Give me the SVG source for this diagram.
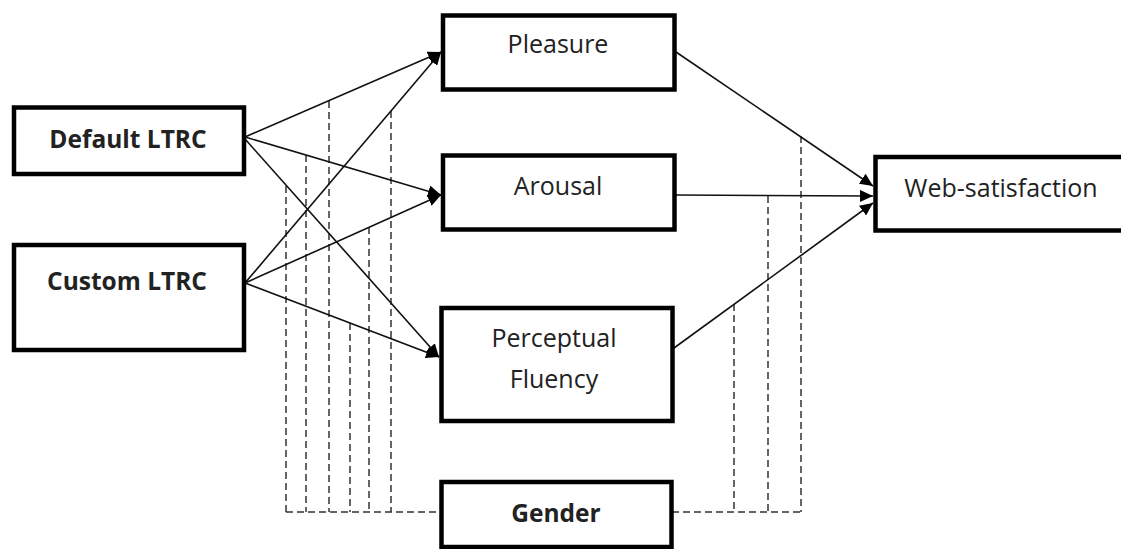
<svg xmlns="http://www.w3.org/2000/svg" width="1121" height="549" viewBox="0 0 1121 549">
  <style>
    .box { fill: #fff; stroke: #000; stroke-width: 4.5; }
    .lbl { font-family: "Open Sans", "Liberation Sans", sans-serif; font-size: 25px; fill: #222; text-anchor: middle; }
    .bold { font-weight: bold; font-size: 24.5px; }
    .path { stroke: #111; stroke-width: 1.6; fill: none; marker-end: url(#head); }
    .mod { stroke: #333; stroke-width: 1.5; stroke-dasharray: 7 4; fill: none; }
  </style>
  <defs>
    <marker id="head" markerUnits="userSpaceOnUse" markerWidth="14" markerHeight="12" refX="13" refY="6" orient="auto">
      <path d="M0,0 L13,6 L0,12 Z" fill="#000"/>
    </marker>
  </defs>
  <rect width="1121" height="549" fill="#fff"/>

  <!-- moderation lines from Gender -->
  <g id="moderators">
    <path class="mod" d="M286,186 V512 M306,155 V512 M329,101 V512 M350,323 V512 M369,227 V512 M391,111 V512 M286,512 H442"/>
    <path class="mod" d="M734,304 V512 M768,196 V512 M801,136 V512 M672,512 H801"/>
  </g>

  <!-- direct paths -->
  <g id="connectors">
    <line class="path" x1="245" y1="137" x2="441" y2="52"/>
    <line class="path" x1="245" y1="137" x2="441" y2="195"/>
    <line class="path" x1="245" y1="139" x2="439" y2="357"/>
    <line class="path" x1="245" y1="283" x2="441" y2="52"/>
    <line class="path" x1="245" y1="283" x2="441" y2="195"/>
    <line class="path" x1="245" y1="283" x2="439" y2="357"/>
    <line class="path" x1="676" y1="52" x2="873" y2="186"/>
    <line class="path" x1="676" y1="195" x2="873" y2="196"/>
    <line class="path" x1="674" y1="348" x2="873" y2="203"/>
  </g>

  <g id="default-ltrc">
    <rect class="box" x="14" y="107.5" width="230" height="66.5"/>
    <text class="lbl bold" x="128" y="148">Default LTRC</text>
  </g>
  <g id="custom-ltrc">
    <rect class="box" x="14" y="245" width="230" height="105"/>
    <text class="lbl bold" x="127" y="290">Custom LTRC</text>
  </g>
  <g id="pleasure">
    <rect class="box" x="443" y="15.5" width="231.5" height="74"/>
    <text class="lbl" x="558" y="53">Pleasure</text>
  </g>
  <g id="arousal">
    <rect class="box" x="443" y="155.5" width="231.5" height="74"/>
    <text class="lbl" x="558" y="195">Arousal</text>
  </g>
  <g id="perceptual-fluency">
    <rect class="box" x="441.5" y="308" width="231" height="113"/>
    <text class="lbl" x="554" y="347">Perceptual</text>
    <text class="lbl" x="554" y="388">Fluency</text>
  </g>
  <g id="gender">
    <rect class="box" x="441.5" y="482" width="230" height="65"/>
    <text class="lbl bold" x="556" y="522">Gender</text>
  </g>
  <g id="web-satisfaction">
    <rect class="box" x="875.5" y="157" width="260" height="73.5"/>
    <text class="lbl" x="1001" y="197">Web-satisfaction</text>
  </g>
</svg>
